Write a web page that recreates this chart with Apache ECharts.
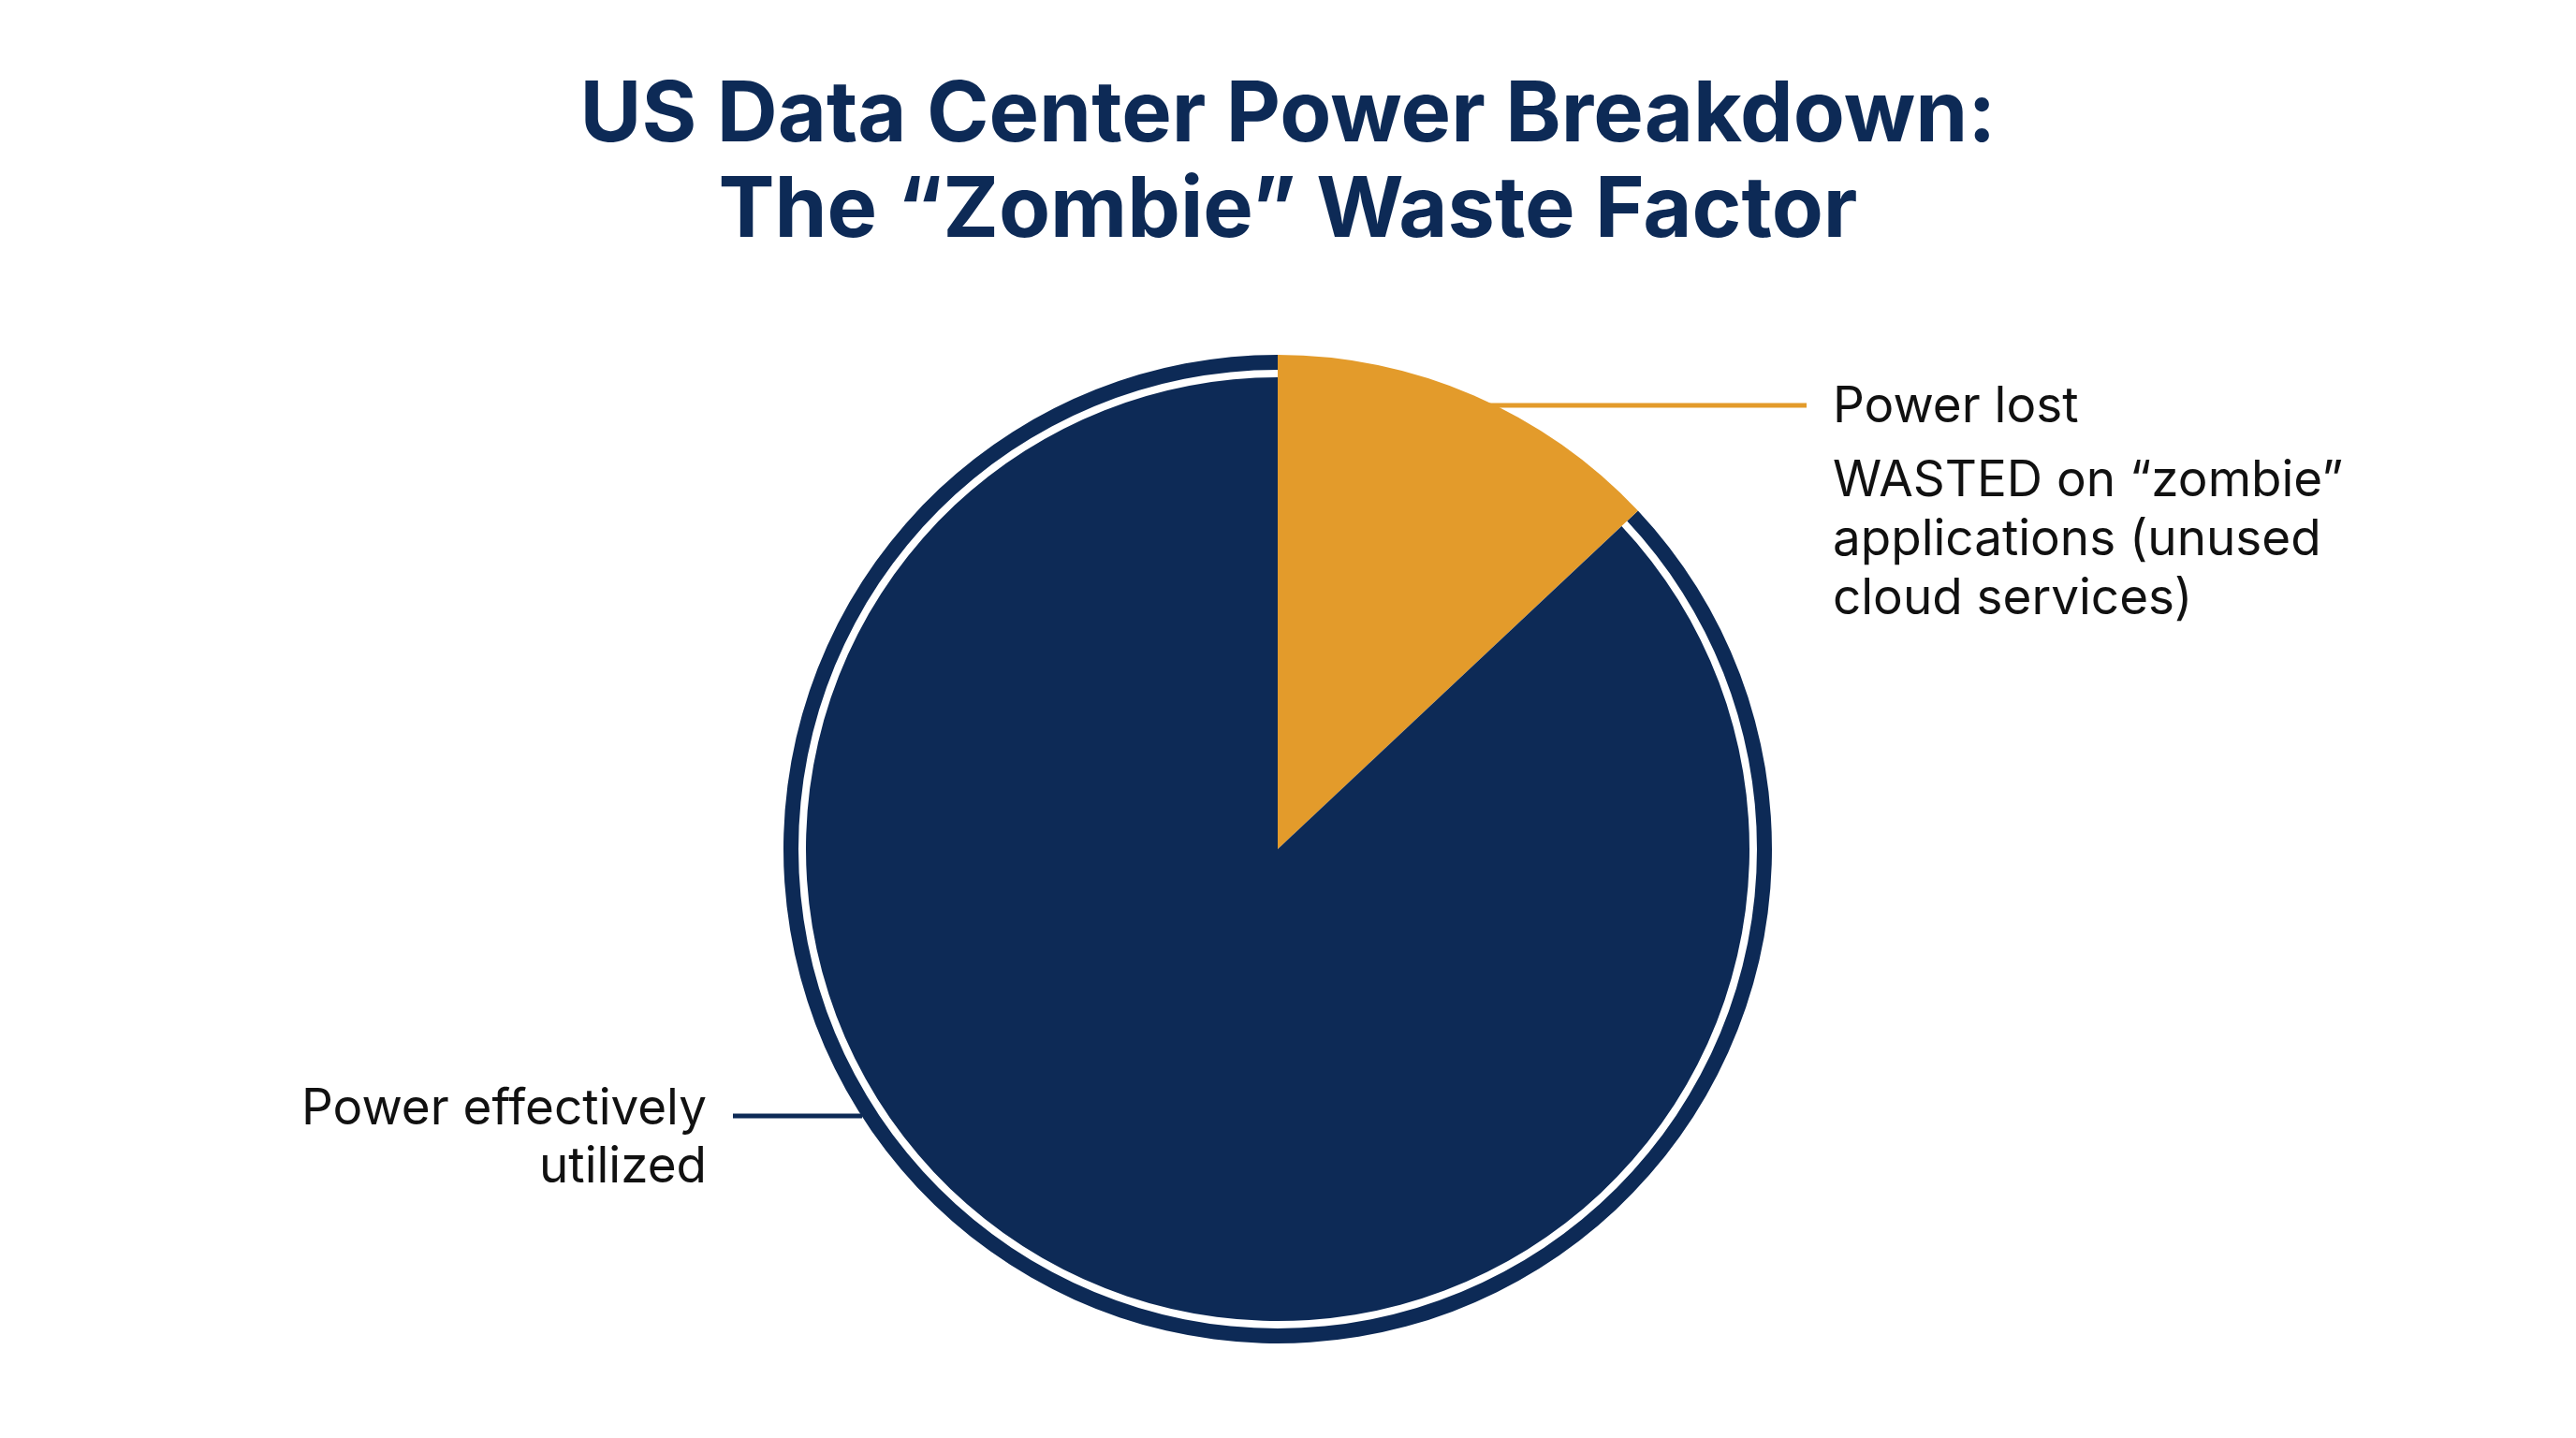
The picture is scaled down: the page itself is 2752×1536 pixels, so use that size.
<!DOCTYPE html>
<html><head><meta charset="utf-8">
<script src="https://cdn.jsdelivr.net/npm/echarts@6/dist/echarts.min.js"></script>
<style>html,body{margin:0;background:#fff}#c{width:2752px;height:1536px}</style>
</head><body><div id="c"></div>
<script>
var categories = ['Power lost', 'Power effectively utilized'];
var values = [13, 87];
var wasteLines = ['WASTED on “zombie”', 'applications (unused', 'cloud services)'];
var usedLines = ['Used for Active', 'Applications &', 'Services'];

var navy = '#0d2a56', orange = '#e39b2b';
var chart = echarts.init(document.getElementById('c'));
var font = '"Inter", "Noto Sans", sans-serif';
var center = [1365, 907];

function mk(r, colors) {
  return {
    type: 'pie', center: center, radius: r, startAngle: 90, clockwise: true,
    silent: true, label: { show: false }, labelLine: { show: false },
    data: categories.map(function (c, i) {
      return { name: c, value: values[i], itemStyle: { color: colors[i] } };
    })
  };
}

var option = {
  animation: false,
  title: {
    text: 'US Data Center Power Breakdown:\nThe “Zombie” Waste Factor',
    left: 'center', top: 68,
    textStyle: { fontFamily: font, fontSize: 90, fontWeight: 'bold', color: navy, lineHeight: 102 }
  },
  series: [
    mk(['512', '528'], ['transparent', navy]),
    mk([0, 528], [orange, 'transparent']),
    mk([0, 504], ['transparent', navy])
  ],
  graphic: [
    { type: 'text', left: 1415, top: 520, style: { text: values[0] + '%', font: 'bold 80px ' + font, fill: navy } },
    { type: 'text', style: { x: 1338, y: 1020, text: values[1] + '%', textAlign: 'center', textVerticalAlign: 'middle', font: 'bold 86px ' + font, fill: '#fff' } },
    { type: 'text', style: { x: 1340, y: 1167, text: usedLines.join('\n'), textAlign: 'center', textVerticalAlign: 'middle', font: '54px ' + font, lineHeight: 63, fill: '#fff' } },
    { type: 'line', shape: { x1: 1580, y1: 433, x2: 1930, y2: 433 }, style: { stroke: orange, lineWidth: 5 } },
    { type: 'text', style: { x: 1958, y: 435, text: categories[0], textVerticalAlign: 'middle', font: '53px ' + font, fill: '#111' } },
    { type: 'text', style: { x: 1958, y: 577, text: wasteLines.join('\n'), textVerticalAlign: 'middle', font: '53px ' + font, lineHeight: 63, fill: '#111' } },
    { type: 'line', shape: { x1: 783, y1: 1192, x2: 921, y2: 1192 }, style: { stroke: navy, lineWidth: 5 } },
    { type: 'text', style: { x: 755, y: 1216, text: 'Power effectively\nutilized', textAlign: 'right', textVerticalAlign: 'middle', font: '53px ' + font, lineHeight: 62, fill: '#111' } }
  ]
};
chart.setOption(option);
</script></body></html>
